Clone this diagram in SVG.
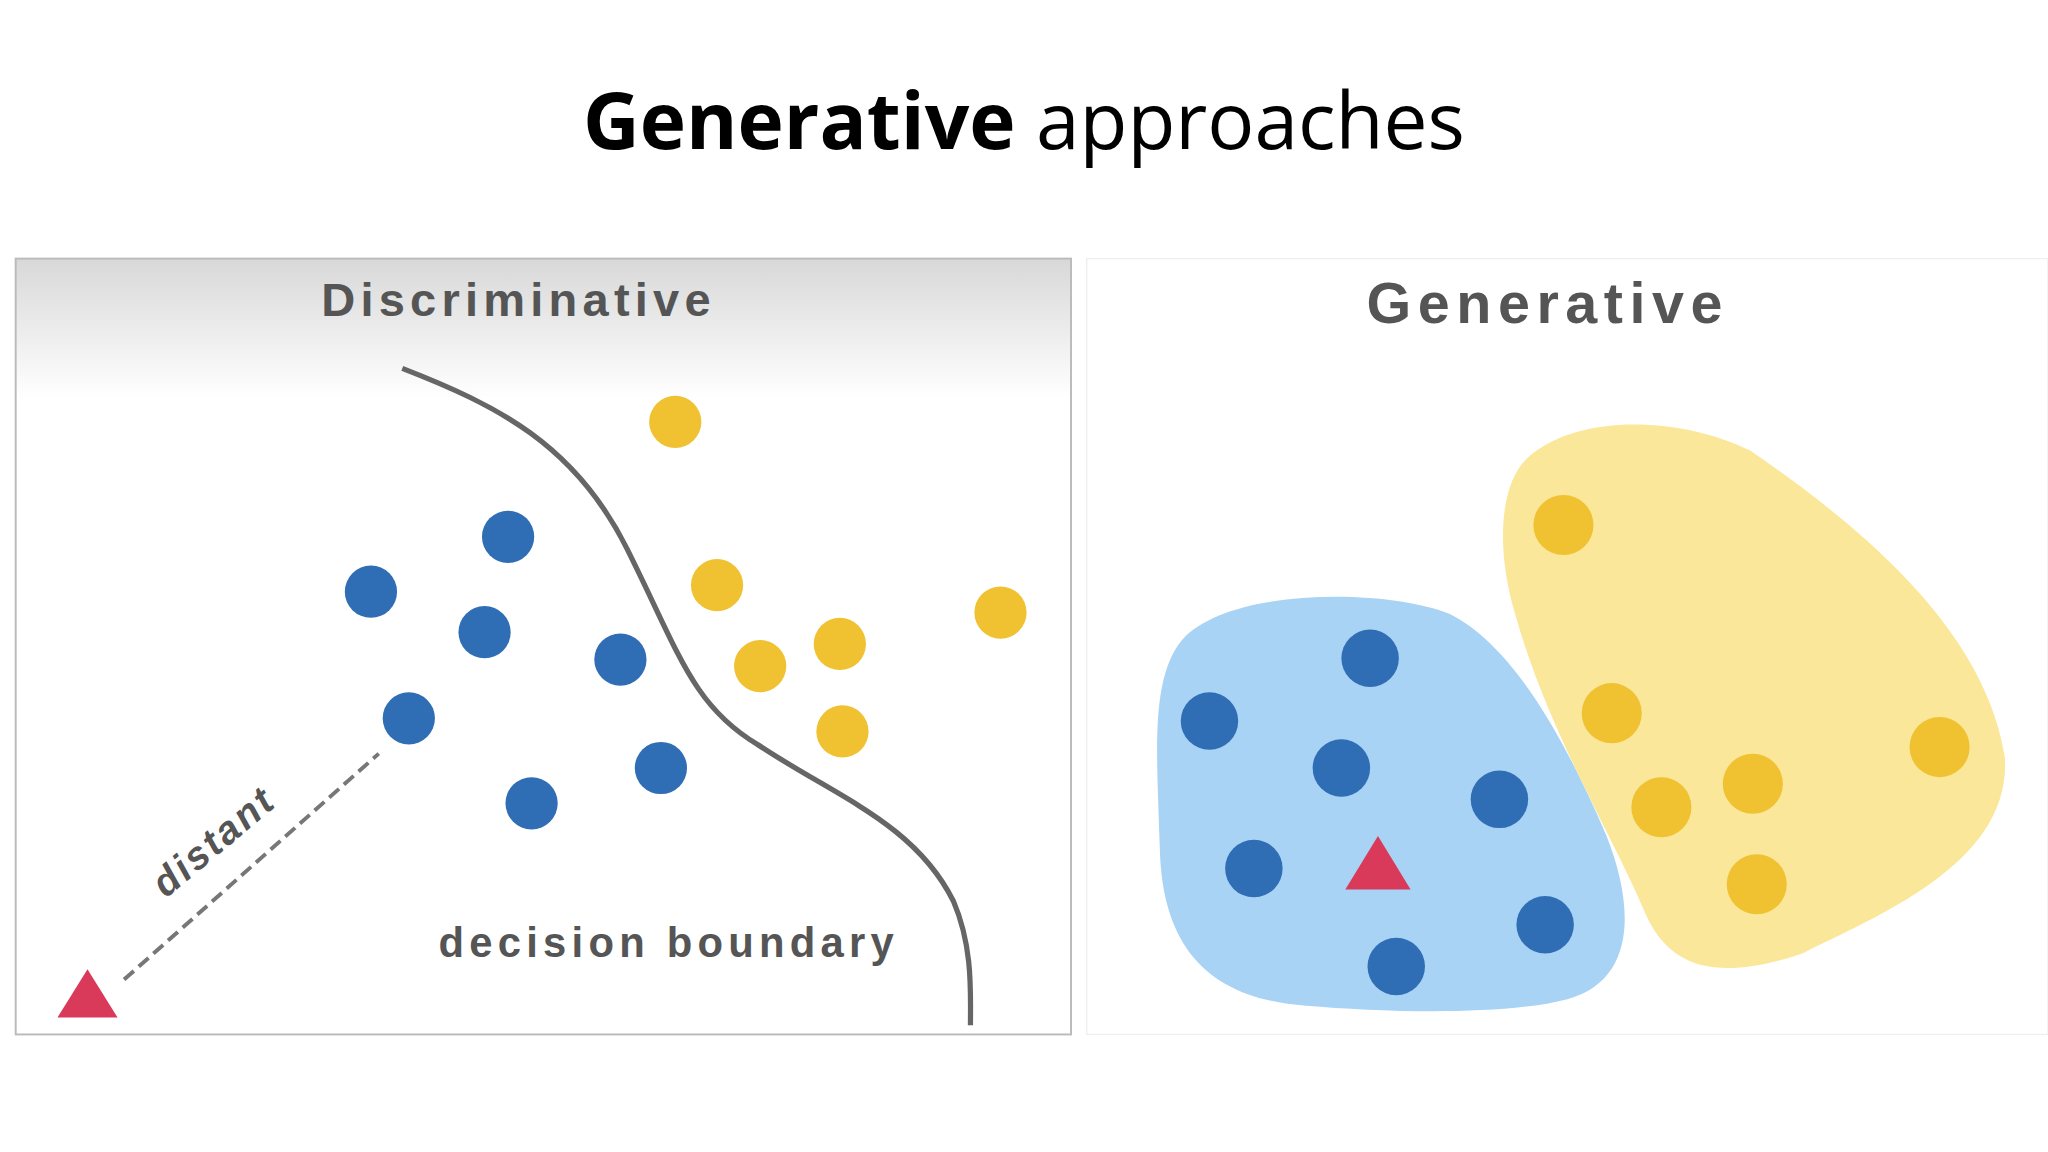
<svg xmlns="http://www.w3.org/2000/svg" width="2048" height="1152" viewBox="0 0 2048 1152">
<style>
.b{fill:#2f6db5}.y{fill:#f0c131}.t{fill:#d93a5a}
.lbl{font-family:"Liberation Sans",Arial,sans-serif;font-weight:bold;fill:#555}
</style>
<defs>
<linearGradient id="g" x1="0" y1="0" x2="0" y2="1">
<stop offset="0" stop-color="#d8d8d8"/><stop offset="0.18" stop-color="#ffffff"/><stop offset="1" stop-color="#ffffff"/>
</linearGradient>
</defs>
<rect width="2048" height="1152" fill="#fff"/>
<g transform="scale(1.30612)">
<text x="784" y="114" text-anchor="middle" font-family="'Open Sans',sans-serif" font-size="60" fill="#000"><tspan font-weight="bold">Generative</tspan> approaches</text>
<g id="left-panel">
<rect x="12" y="198" width="808" height="594" fill="url(#g)" stroke="#bbb" stroke-width="1.5"/>
<text class="lbl" x="397" y="242" text-anchor="middle" font-size="36" letter-spacing="4">Discriminative</text>
</g>
<g id="connectors">
<path d="M308,282 C380,310 440,340 480,420 C520,500 530,540 580,570 C640,610 700,630 730,690 C745,725 743,760 743,785" fill="none" stroke="#666" stroke-width="4"/>
<line x1="95" y1="750" x2="290" y2="577" stroke="#777" stroke-width="3" stroke-dasharray="10,5"/>
</g>
<text class="lbl" x="512" y="733" text-anchor="middle" font-size="32" letter-spacing="4" fill="#666">decision boundary</text>
<text class="lbl" x="170" y="652" text-anchor="middle" font-size="30" font-style="italic" font-weight="normal" letter-spacing="2" transform="rotate(-40 170 652)" fill="#666">distant</text>
<g id="left-points">
<circle class="b" cx="389" cy="411" r="20"/><circle class="b" cx="284" cy="453" r="20"/><circle class="b" cx="371" cy="484" r="20"/><circle class="b" cx="475" cy="505" r="20"/><circle class="b" cx="313" cy="550" r="20"/><circle class="b" cx="506" cy="588" r="20"/><circle class="b" cx="407" cy="615" r="20"/>
<circle class="y" cx="517" cy="323" r="20"/><circle class="y" cx="549" cy="448" r="20"/><circle class="y" cx="582" cy="510" r="20"/><circle class="y" cx="643" cy="493" r="20"/><circle class="y" cx="645" cy="560" r="20"/><circle class="y" cx="766" cy="469" r="20"/>
<polygon class="t" points="67,742 90,779 44,779"/>
</g>
<g id="right-panel">
<rect x="832" y="198" width="736" height="594" fill="#fff" stroke="#eee" stroke-width="1"/>
<text class="lbl" x="1185" y="247" text-anchor="middle" font-size="44" letter-spacing="5">Generative</text>
<path d="M905,490 C940,450 1060,450 1110,470 C1160,495 1200,570 1230,640 C1250,690 1255,750 1200,765 C1150,778 1060,775 1000,770 C930,765 890,730 888,650 C886,580 880,520 905,490 Z" fill="#a9d3f5"/>
<path d="M1170,350 C1210,315 1290,320 1340,345 C1420,400 1520,480 1535,580 C1540,660 1440,700 1380,730 C1320,750 1280,745 1260,700 C1235,640 1185,560 1160,470 C1145,420 1148,370 1170,350 Z" fill="#fbe79a"/>
<circle class="b" cx="1049" cy="504" r="22"/><circle class="b" cx="926" cy="552" r="22"/><circle class="b" cx="1027" cy="588" r="22"/><circle class="b" cx="1148" cy="612" r="22"/><circle class="b" cx="960" cy="665" r="22"/><circle class="b" cx="1183" cy="708" r="22"/><circle class="b" cx="1069" cy="740" r="22"/>
<circle class="y" cx="1197" cy="402" r="23"/><circle class="y" cx="1234" cy="546" r="23"/><circle class="y" cx="1342" cy="600" r="23"/><circle class="y" cx="1272" cy="618" r="23"/><circle class="y" cx="1345" cy="677" r="23"/><circle class="y" cx="1485" cy="572" r="23"/>
<polygon class="t" points="1055,640 1080,681 1030,681"/>
</g>
</g>
</svg>
